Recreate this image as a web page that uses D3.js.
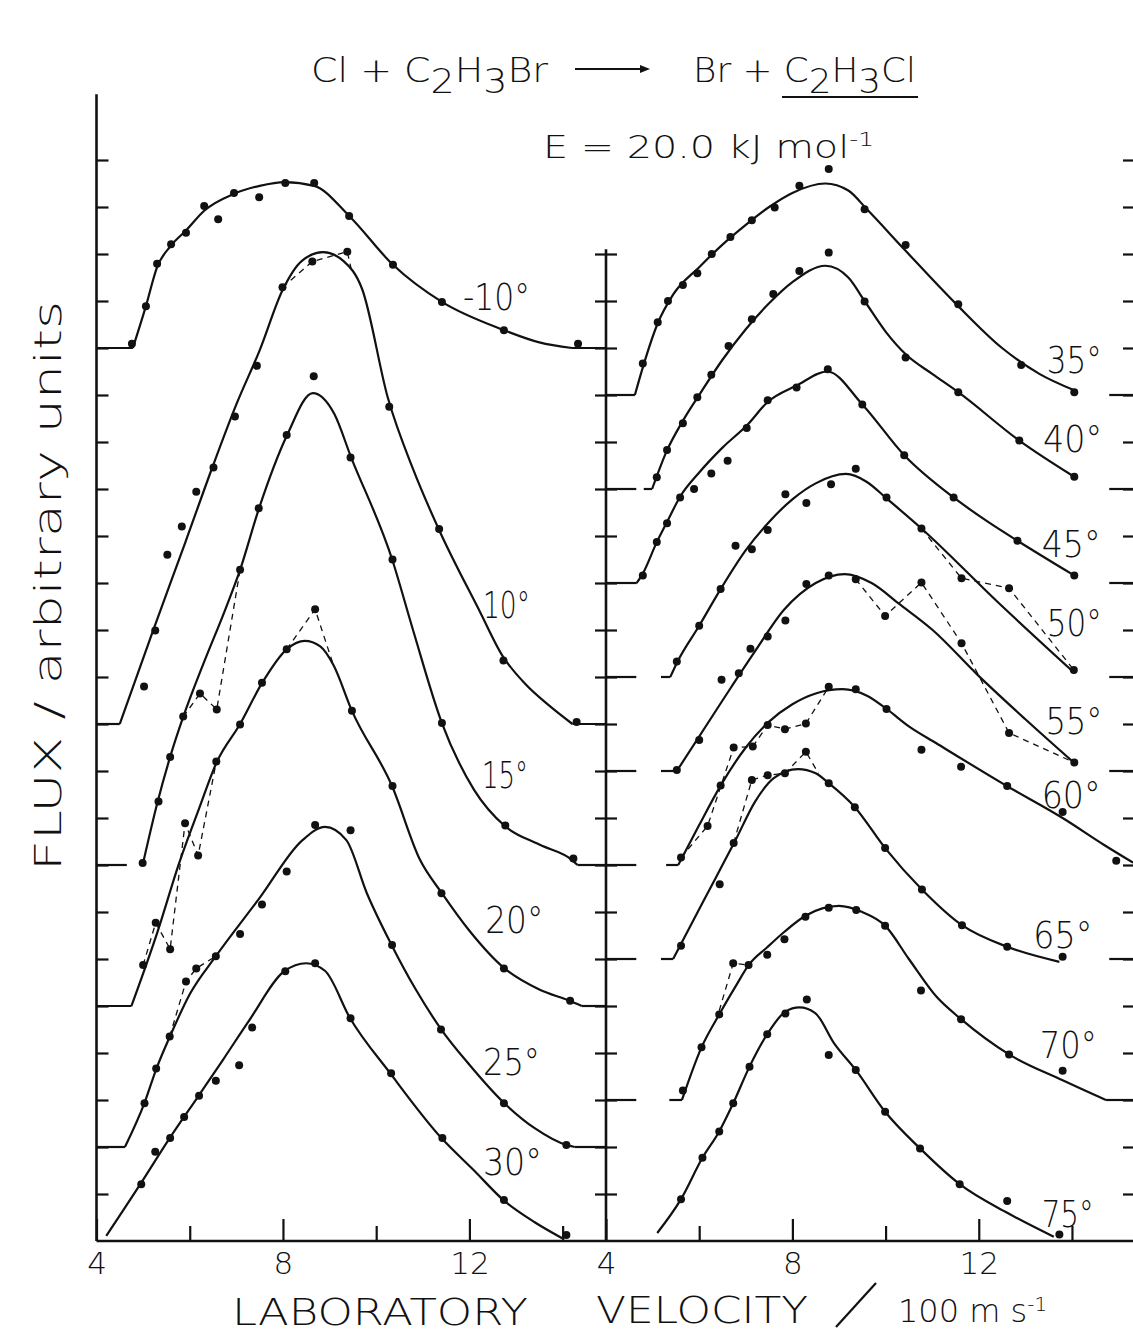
<!DOCTYPE html>
<html>
<head>
<meta charset="utf-8">
<script src="https://cdn.jsdelivr.net/npm/d3@7/dist/d3.min.js"></script>
<style>
  body { margin: 0; background: #fff; }
  svg text { font-family: "DejaVu Sans", sans-serif; font-weight: 200; fill: #111; }
  .fit { fill: none; stroke: #111; stroke-width: 2.2; }
  .dash { fill: none; stroke: #111; stroke-width: 1.3; stroke-dasharray: 6 5; }
  .axisline { stroke: #111; stroke-width: 2.6; }
  .tick line { stroke: #111; stroke-width: 2.2; }
</style>
</head>
<body>
<svg id="chart" width="1133" height="1333"></svg>
<script>
// scattering angles, left panel first then right panel
var angleText = ["-10°","10°","15°","20°","25°","30°","35°","40°","45°","50°","55°","60°","65°","70°","75°"];
var panel     = [0,0,0,0,0,0,1,1,1,1,1,1,1,1,1];
var baseline  = [19,11,8,5,2,0,18,16,14,12,10,8,6,3,0];   // vertical offset of each curve (flux units)
var stubLeft  = [4.78,4.5,4.65,4.75,4.61,null,4.62,4.65,4.66,4.65,4.65,4.65,4.65,4.65,null];
var stubRight = [14.2,14.21,14.32,14.41,14.26,null,14.8,14.8,14.8,14.8,14.8,null,14.8,14.73,null];

// label anchor [velocity, plot units] and printed width
var labelAt = [[11.86,19.81],[12.29,13.26],[12.27,9.64],[12.34,6.55],[12.29,3.53],[12.29,1.40],
               [13.46,18.47],[13.38,16.79],[13.35,14.55],[13.46,12.87],[13.43,10.79],[13.35,9.21],
               [13.17,6.23],[13.31,3.89],[13.35,0.30]];
var labelWidth = [67,47,46,58,57,59,55,59,59,55,57,59,59,57,52];

// measured flux (velocity /100 m s-1, flux above the curve's offset)
var measured = [
  [[4.76,0.09],[5.06,0.89],[5.30,1.79],[5.60,2.21],[5.92,2.45],[6.31,3.02],[6.61,2.74],[6.95,3.30],[7.49,3.21],[8.05,3.51],[8.67,3.51],[9.42,2.81],[10.36,1.77],[11.41,0.98],[12.74,0.38],[14.33,0.09]],
  [[5.02,0.80],[5.26,1.99],[5.52,3.60],[5.83,4.20],[6.14,4.94],[6.51,5.46],[6.97,6.54],[7.44,7.62],[7.99,9.29],[8.63,9.84],[9.38,10.05],[10.28,6.75],[11.35,4.15],[12.73,1.35],[14.30,0.04]],
  [[4.99,0.04],[5.33,1.35],[5.58,2.30],[5.86,3.16],[6.22,3.65],[6.58,3.31],[7.08,6.28],[7.48,7.59],[8.08,9.15],[8.66,10.40],[9.45,8.67],[10.35,6.50],[11.41,3.02],[12.77,0.84],[14.23,0.14]],
  [[5.00,0.87],[5.27,1.77],[5.58,1.21],[5.90,3.89],[6.18,3.20],[6.57,5.20],[7.08,5.99],[7.55,6.88],[8.08,7.59],[8.69,8.44],[9.48,6.28],[10.35,4.68],[11.40,2.40],[12.74,0.80],[14.16,0.11]],
  [[5.03,0.93],[5.28,1.67],[5.57,2.35],[5.92,3.52],[6.14,3.80],[6.56,4.06],[7.08,4.53],[7.55,5.16],[8.08,5.86],[8.69,6.85],[9.45,6.74],[10.34,4.30],[11.39,2.50],[12.74,0.93],[14.08,0.04]],
  [[4.96,1.21],[5.26,1.90],[5.58,2.19],[5.88,2.64],[6.20,3.09],[6.56,3.41],[7.06,3.74],[7.34,4.54],[8.05,5.74],[8.69,5.91],[9.45,4.74],[10.32,3.57],[11.42,2.19],[12.74,0.87],[14.08,0.13]],
  [[4.79,0.67],[5.11,1.55],[5.33,2.00],[5.65,2.34],[5.96,2.59],[6.27,3.00],[6.67,3.36],[7.13,3.72],[7.62,3.99],[8.15,4.45],[8.78,4.81],[9.55,3.95],[10.43,3.19],[11.56,1.93],[12.91,0.64],[14.05,0.06]],
  [[5.09,0.25],[5.31,0.83],[5.65,1.40],[5.96,1.95],[6.26,2.43],[6.63,3.04],[7.13,3.61],[7.59,4.15],[8.15,4.64],[8.78,5.03],[9.55,3.99],[10.43,2.80],[11.56,2.06],[12.87,1.03],[14.05,0.26]],
  [[4.79,0.16],[5.09,0.87],[5.31,1.27],[5.59,1.82],[5.89,2.00],[6.26,2.33],[6.61,2.60],[7.02,3.30],[7.47,3.89],[8.09,4.16],[8.76,4.55],[9.50,3.80],[10.40,2.72],[11.46,1.82],[12.83,0.90],[14.05,0.16]],
  [[5.52,0.33],[6.00,1.09],[6.46,1.87],[6.78,2.79],[7.13,2.72],[7.47,3.13],[7.85,3.89],[8.30,3.70],[8.83,4.10],[9.36,4.43],[10.02,3.82],[10.77,3.16],[11.63,2.10],[12.65,1.89],[14.04,0.15]],
  [[5.52,0.02],[6.00,0.66],[6.48,1.94],[6.85,2.08],[7.10,2.60],[7.47,2.86],[7.85,3.20],[8.30,3.98],[8.78,4.16],[9.36,4.08],[9.99,3.30],[10.77,4.01],[11.63,2.72],[12.65,0.81],[14.05,0.18]],
  [[5.61,0.16],[6.18,0.83],[6.46,1.69],[6.74,2.50],[7.15,2.52],[7.47,2.98],[7.84,2.89],[8.29,3.01],[8.78,3.79],[9.36,3.74],[10.02,3.32],[10.77,2.45],[11.62,2.09],[12.61,1.68],[13.80,1.13],[14.95,0.09]],
  [[5.61,0.28],[6.44,1.59],[6.74,2.47],[7.13,3.81],[7.47,3.91],[7.84,3.95],[8.29,4.41],[8.78,3.74],[9.34,3.23],[9.99,2.36],[10.78,1.48],[11.64,0.72],[12.61,0.26],[13.80,0.05]],
  [[5.65,0.20],[6.05,1.12],[6.43,1.82],[6.73,2.91],[7.06,2.87],[7.46,3.09],[7.83,3.42],[8.28,3.90],[8.78,4.09],[9.37,4.04],[9.99,3.71],[10.76,2.33],[11.62,1.72],[12.65,0.97],[13.80,0.62]],
  [[5.61,0.89],[6.07,1.77],[6.43,2.33],[6.73,2.93],[7.08,3.71],[7.46,4.40],[7.85,4.84],[8.31,5.14],[8.78,3.96],[9.36,3.64],[9.99,2.75],[10.74,1.97],[11.59,1.21],[12.61,0.85],[13.73,0.14]]
];

// fitted curves
var fitted = [
  [[4.78,0],[5.06,0.89],[5.30,1.72],[5.60,2.18],[5.92,2.5],[6.31,2.92],[6.95,3.28],[7.5,3.45],[8.04,3.53],[8.67,3.45],[9.42,2.81],[10.36,1.77],[11.41,0.98],[12.74,0.38],[13.5,0.12],[14.2,0]],
  [[4.5,0],[5.2,1.95],[5.9,3.85],[6.5,5.5],[7.0,6.8],[7.5,7.95],[8.0,9.25],[8.4,9.85],[8.86,10.04],[9.3,9.85],[9.7,9.25],[10.25,6.94],[10.8,5.4],[11.34,4.15],[12.22,2.4],[12.71,1.45],[13.2,0.85],[13.7,0.4],[14.21,0]],
  [[4.99,0],[5.31,1.34],[5.58,2.3],[5.86,3.15],[6.3,4.3],[6.76,5.43],[7.08,6.28],[7.49,7.6],[8.09,9.15],[8.64,10.04],[9.1,9.6],[9.46,8.68],[10.34,6.51],[10.79,5.0],[11.41,3.02],[12.1,1.6],[12.76,0.83],[13.51,0.43],[14.21,0.1],[14.32,0]],
  [[4.75,0],[5.3,1.55],[5.78,3.06],[6.2,4.2],[6.58,5.19],[7.08,6.0],[7.55,6.87],[8.09,7.6],[8.47,7.77],[8.8,7.65],[9.08,7.26],[9.48,6.28],[10.34,4.68],[10.94,3.11],[11.41,2.4],[12.0,1.6],[12.74,0.81],[13.5,0.35],[14.15,0.11],[14.41,0]],
  [[4.61,0],[5.03,0.94],[5.29,1.68],[5.57,2.34],[6.0,3.25],[6.56,4.06],[7.5,5.3],[8.42,6.53],[8.9,6.81],[9.36,6.53],[9.8,5.4],[10.33,4.3],[10.85,3.35],[11.39,2.51],[12.0,1.75],[12.74,0.94],[13.4,0.4],[14.09,0.04],[14.26,0]],
  [[4.21,0.11],[4.94,1.21],[5.57,2.19],[6.19,3.09],[6.71,3.85],[7.28,4.7],[8.03,5.74],[8.5,5.91],[8.9,5.75],[9.44,4.74],[10.3,3.57],[11.4,2.19],[12.1,1.5],[12.73,0.87],[13.4,0.4],[13.99,0.06]],
  [[4.62,0],[4.8,0.62],[5.1,1.5],[5.45,2.15],[6.0,2.72],[6.5,3.2],[7.0,3.62],[7.5,4.0],[8.0,4.3],[8.71,4.5],[9.2,4.35],[9.6,3.95],[10.4,3.1],[11.5,1.95],[12.5,1.0],[13.3,0.45],[14.05,0.1]],
  [[4.81,0],[4.99,0],[5.3,0.8],[5.65,1.45],[6.0,2.0],[6.5,2.75],[7.0,3.4],[7.5,3.95],[8.0,4.4],[8.71,4.75],[9.2,4.5],[9.55,4.0],[10.0,3.35],[10.45,2.85],[11.0,2.45],[11.56,2.06],[12.87,1.03],[14.05,0.26]],
  [[4.66,0],[4.79,0.2],[5.09,0.87],[5.31,1.3],[5.6,1.85],[6.0,2.35],[6.5,2.88],[7.02,3.35],[7.47,3.85],[8.09,4.2],[8.75,4.5],[9.5,3.8],[10.4,2.72],[11.46,1.82],[12.2,1.3],[12.83,0.9],[14.05,0.16]],
  [[5.18,0],[5.38,0],[5.52,0.3],[6.0,1.09],[6.46,1.87],[7.0,2.7],[7.5,3.3],[8.0,3.78],[8.5,4.12],[9.15,4.32],[9.6,4.15],[10.02,3.8],[10.77,3.16],[12.4,1.6],[14.06,0.08]],
  [[5.18,0],[5.52,0],[6.5,1.5],[7.2,2.55],[7.82,3.43],[8.5,4.0],[9.12,4.19],[9.7,4.0],[10.3,3.55],[11.01,3.0],[11.98,2.04],[13.0,1.1],[14.06,0.16]],
  [[5.29,0],[5.55,0],[6.0,0.85],[6.46,1.69],[7.0,2.5],[7.5,3.05],[8.0,3.42],[8.5,3.65],[9.08,3.74],[9.6,3.6],[10.02,3.32],[10.5,2.95],[11.09,2.59],[12.57,1.7],[13.8,1.0],[14.7,0.42],[15.31,0.05]],
  [[5.18,0],[5.44,0],[6.1,1.25],[6.78,2.53],[7.2,3.35],[7.6,3.85],[8.12,4.04],[8.5,3.95],[8.78,3.74],[9.34,3.23],[9.99,2.36],[10.78,1.48],[11.64,0.72],[12.61,0.26],[13.73,-0.06]],
  [[5.36,0],[5.63,0],[6.05,1.12],[6.43,1.82],[6.8,2.45],[7.06,2.87],[7.46,3.25],[7.83,3.58],[8.28,3.92],[9.0,4.13],[9.5,4.0],[9.99,3.71],[10.5,3.0],[11.09,2.2],[11.62,1.72],[12.65,0.97],[13.8,0.42],[14.73,0]],
  [[5.10,0.17],[5.61,0.89],[6.07,1.77],[6.43,2.33],[6.73,2.93],[7.08,3.71],[7.46,4.4],[7.85,4.88],[8.15,4.97],[8.49,4.85],[8.9,4.2],[9.36,3.64],[9.99,2.75],[10.74,1.97],[11.59,1.21],[12.61,0.6],[13.61,0.09]]
];

// dashed joins through stray points
var dashed = [
  [],
  [[[7.99,9.29],[8.63,9.84],[9.38,10.05],[9.46,9.7]]],
  [[[5.86,3.15],[6.22,3.65],[6.58,3.31],[7.08,6.28]]],
  [[[5.00,0.87],[5.27,1.77],[5.58,1.21],[5.90,3.89],[6.18,3.20],[6.57,5.20]],[[8.08,7.59],[8.69,8.44],[9.08,7.26]]],
  [[[5.57,2.35],[5.92,3.52],[6.14,3.80],[6.56,4.06]]],
  [], [], [], [],
  [[[10.77,3.16],[11.63,2.10],[12.65,1.89],[14.04,0.15]]],
  [[[9.36,4.08],[9.99,3.30],[10.77,4.01],[11.63,2.72],[12.65,0.81],[14.05,0.18]]],
  [[[5.61,0.16],[6.18,0.83],[6.74,2.50],[7.15,2.52],[7.47,2.98],[7.84,2.89],[8.29,3.01],[8.78,3.79]]],
  [[[6.74,2.47],[7.13,3.81],[7.47,3.91],[7.84,3.95],[8.29,4.41],[8.56,3.95]]],
  [[[6.43,1.9],[6.73,2.91],[7.06,2.87]]],
  []
];

var xTickValues = [4,6,8,10,12,14];
var xTickLabels = [4,8,12];

var svg = d3.select("#chart");
var xs = [
  d3.scaleLinear().domain([4, 14.93]).range([96.5, 606]),
  d3.scaleLinear().domain([4, 15.31]).range([606, 1133])
];
var y = d3.scaleLinear().domain([0, 23]).range([1241, 160]);

function path(nodes, x, base, curve) {
  return d3.line()
    .x(function(d) { return x(d[0]); })
    .y(function(d) { return y(base + d[1]); })
    .curve(curve)(nodes);
}

// axes
var left = svg.append("g").attr("transform", "translate(" + xs[0](4) + ",0)")
  .call(d3.axisRight(y).tickValues(d3.range(1, 24)).tickSize(12).tickFormat(""));
var midR = svg.append("g").attr("transform", "translate(" + xs[1](4) + ",0)")
  .call(d3.axisRight(y).tickValues(d3.range(1, 22)).tickSize(11).tickFormat(""));
var midL = svg.append("g").attr("transform", "translate(" + xs[1](4) + ",0)")
  .call(d3.axisLeft(y).tickValues(d3.range(1, 22)).tickSize(11).tickFormat(""));
var right = svg.append("g").attr("transform", "translate(" + xs[1].range()[1] + ",0)")
  .call(d3.axisLeft(y).tickValues(d3.range(1, 24)).tickSize(10).tickFormat(""));
[left, midR, midL, right].forEach(function(g) { g.select(".domain").remove(); });

xs.forEach(function(x) {
  var g = svg.append("g").attr("transform", "translate(0," + y(0) + ")")
    .call(d3.axisBottom(x).tickValues(xTickValues).tickSizeInner(-15).tickSizeOuter(0).tickPadding(11)
      .tickFormat(function(d) { return xTickLabels.indexOf(d) >= 0 ? d : ""; }));
  g.select(".domain").remove();
  g.selectAll(".tick line").attr("y2", function(d) { return d % 4 === 0 ? -22 : -15; });
  g.selectAll(".tick text").attr("font-size", 31);
});

svg.append("line").attr("class", "axisline")
  .attr("x1", xs[0](4)).attr("x2", xs[0](4)).attr("y1", y(0)).attr("y2", y(24.4));
svg.append("line").attr("class", "axisline")
  .attr("x1", xs[1](4)).attr("x2", xs[1](4)).attr("y1", y(0)).attr("y2", y(21.1));
svg.append("line").attr("class", "axisline")
  .attr("x1", xs[0](4)).attr("x2", xs[1].range()[1]).attr("y1", y(0)).attr("y2", y(0));

// curves
angleText.forEach(function(lbl, i) {
  var x = xs[panel[i]], b = baseline[i], dom = x.domain();
  var g = svg.append("g");
  if (stubLeft[i] != null)
    g.append("path").attr("class", "fit").attr("d", path([[dom[0], 0], [stubLeft[i], 0]], x, b, d3.curveLinear));
  if (stubRight[i] != null)
    g.append("path").attr("class", "fit").attr("d", path([[stubRight[i], 0], [dom[1], 0]], x, b, d3.curveLinear));

  var f = fitted[i], k = 0;
  while (k < f.length - 1 && f[k][1] === 0 && f[k + 1][1] === 0) k++;
  if (k > 0) g.append("path").attr("class", "fit").attr("d", path(f.slice(0, k + 1), x, b, d3.curveLinear));
  g.append("path").attr("class", "fit").attr("d", path(f.slice(k), x, b, d3.curveMonotoneX));

  dashed[i].forEach(function(seg) {
    g.append("path").attr("class", "dash").attr("d", path(seg, x, b, d3.curveLinear));
  });

  g.selectAll("circle").data(measured[i]).enter().append("circle")
    .attr("cx", function(d) { return x(d[0]); })
    .attr("cy", function(d) { return y(b + d[1]); })
    .attr("r", 4).attr("fill", "#111");

  svg.append("text")
    .attr("x", x(labelAt[i][0])).attr("y", y(labelAt[i][1]))
    .attr("font-size", 38)
    .attr("textLength", labelWidth[i]).attr("lengthAdjust", "spacingAndGlyphs")
    .text(lbl);
});

// title
function chem(parts, x0, y0, len) {
  var txt = svg.append("text").attr("x", x0).attr("y", y0).attr("font-size", 34)
    .attr("textLength", len).attr("lengthAdjust", "spacingAndGlyphs");
  parts.forEach(function(p) {
    txt.append("tspan").attr("dy", p[1]).text(p[0]);
  });
  return txt;
}
chem([["Cl + C",0],["2",11],["H",-11],["3",11],["Br",-11]], 311, 82, 237);
chem([["Br + C",0],["2",11],["H",-11],["3",11],["Cl",-11]], 693, 82, 223);
svg.append("line").attr("x1", 575).attr("x2", 642).attr("y1", 69).attr("y2", 69)
  .attr("stroke", "#111").attr("stroke-width", 2);
svg.append("path").attr("d", "M640,65L650,69L640,73Z").attr("fill", "#111");
svg.append("line").attr("x1", 782).attr("x2", 918).attr("y1", 97).attr("y2", 97)
  .attr("stroke", "#111").attr("stroke-width", 2);

var e = svg.append("text").attr("x", 543).attr("y", 158).attr("font-size", 32)
  .attr("textLength", 331).attr("lengthAdjust", "spacingAndGlyphs");
e.append("tspan").text("E = 20.0 kJ mol");
e.append("tspan").attr("dy", -12).attr("font-size", 20).text("-1");

// axis titles
svg.append("text").attr("x", 232).attr("y", 1325).attr("font-size", 38)
  .attr("textLength", 296).attr("lengthAdjust", "spacingAndGlyphs").text("LABORATORY");
svg.append("text").attr("x", 596).attr("y", 1323).attr("font-size", 38)
  .attr("textLength", 212).attr("lengthAdjust", "spacingAndGlyphs").text("VELOCITY");
svg.append("line").attr("x1", 836).attr("y1", 1327).attr("x2", 876).attr("y2", 1283)
  .attr("stroke", "#111").attr("stroke-width", 2.2);
var u = svg.append("text").attr("x", 898).attr("y", 1322).attr("font-size", 32);
u.append("tspan").text("100 m s");
u.append("tspan").attr("dy", -11).attr("font-size", 20).text("-1");

svg.append("text")
  .attr("transform", "translate(61,586) rotate(-90)")
  .attr("text-anchor", "middle").attr("font-size", 38)
  .attr("textLength", 570).attr("lengthAdjust", "spacingAndGlyphs")
  .text("FLUX / arbitrary units");
</script>
</body>
</html>
